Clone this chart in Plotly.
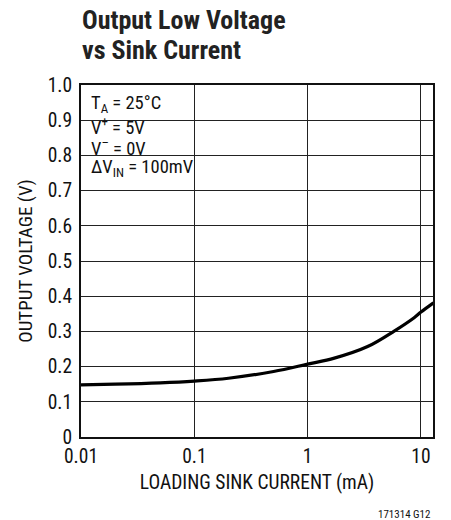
import plotly.graph_objects as go

# Data
current_mA = [0.01, 0.02, 0.05, 0.1, 0.2, 0.5, 1.0, 1.72, 3.38, 5.8, 8.7, 10.0, 12.9]
vout_V = [0.148, 0.150, 0.154, 0.159, 0.167, 0.186, 0.207, 0.224, 0.257, 0.301, 0.339, 0.355, 0.381]

x_ticks = [0.01, 0.1, 1, 10]
x_tick_labels = ["0.01", "0.1", "1", "10"]
y_ticks = [0, 0.1, 0.2, 0.3, 0.4, 0.5, 0.6, 0.7, 0.8, 0.9, 1.0]
y_tick_labels = ["0", "0.1", "0.2", "0.3", "0.4", "0.5", "0.6", "0.7", "0.8", "0.9", "1.0"]

cond_lines = ["T<sub>A</sub> = 25°C", "V<sup>+</sup> = 5V", "V<sup>–</sup> = 0V", "ΔV<sub>IN</sub> = 100mV"]

FONT = "Roboto Condensed, Liberation Sans, sans-serif"

# the page body adds an 8px margin; figure sized to fit the window
OFF = 8
W, H = 443, 512
L, T = 81 - OFF, 85 - OFF
pw, ph = 352, 352
R = W - L - pw
B = H - T - ph


def px_x(page_x):
    return (page_x - OFF - L) / pw


def px_y(page_y):
    return (T + ph - (page_y - OFF)) / ph


fig = go.Figure()
fig.add_trace(go.Scatter(x=current_mA, y=vout_V, mode="lines",
                         line=dict(color="black", width=3.2, shape="spline"),
                         hoverinfo="skip", showlegend=False))

fig.update_layout(
    width=W, height=H,
    margin=dict(l=L, r=R, t=T, b=B, autoexpand=False),
    paper_bgcolor="white", plot_bgcolor="white",
    font=dict(family=FONT, color="#111", size=17),
    showlegend=False,
)
fig.update_xaxes(type="log", range=[-2, 1.106], automargin=False,
                 tickvals=x_ticks, ticktext=x_tick_labels,
                 showgrid=True, gridcolor="#222", gridwidth=1,
                 showline=True, linecolor="#111", linewidth=2, mirror=True,
                 ticks="", zeroline=False, ticklabelstandoff=1,
                 tickfont=dict(family=FONT, size=19.5),
                 title=dict(text="LOADING SINK CURRENT (mA)", font=dict(family=FONT, size=19.5), standoff=8))
fig.update_yaxes(range=[0, 1.0], tickvals=y_ticks, ticktext=y_tick_labels, automargin=False,
                 showgrid=True, gridcolor="#222", gridwidth=1,
                 showline=True, linecolor="#111", linewidth=2, mirror=True,
                 ticks="", zeroline=False, ticklabelstandoff=3,
                 tickfont=dict(family=FONT, size=19.5),
                 title=dict(text="OUTPUT VOLTAGE (V)", font=dict(family=FONT, size=19), standoff=10))

# white box behind conditions text
fig.add_shape(type="rect", xref="paper", yref="paper",
              x0=0, x1=px_x(203), y0=px_y(182), y1=1,
              fillcolor="white", line=dict(width=0), layer="between")

line_centers_px = [104, 126, 147, 168]
for txt, py in zip(cond_lines, line_centers_px):
    fig.add_annotation(text=txt, xref="paper", yref="paper",
                       x=px_x(89), y=px_y(py),
                       xanchor="left", yanchor="middle", showarrow=False,
                       font=dict(family=FONT, size=18.5, color="#111"))

# title
for txt, py in [("<b>Output Low Voltage</b>", 20), ("<b>vs Sink Current</b>", 50)]:
    fig.add_annotation(text=txt, xref="paper", yref="paper",
                       x=px_x(80), y=px_y(py), xanchor="left", yanchor="middle",
                       showarrow=False, font=dict(family=FONT, size=26, color="#222"))

fig.add_annotation(text="171314 G12", xref="paper", yref="paper",
                   x=px_x(432), y=px_y(514), xanchor="right", yanchor="middle",
                   showarrow=False, font=dict(family=FONT, size=11, color="#111"))

fig.write_html("out.html")
